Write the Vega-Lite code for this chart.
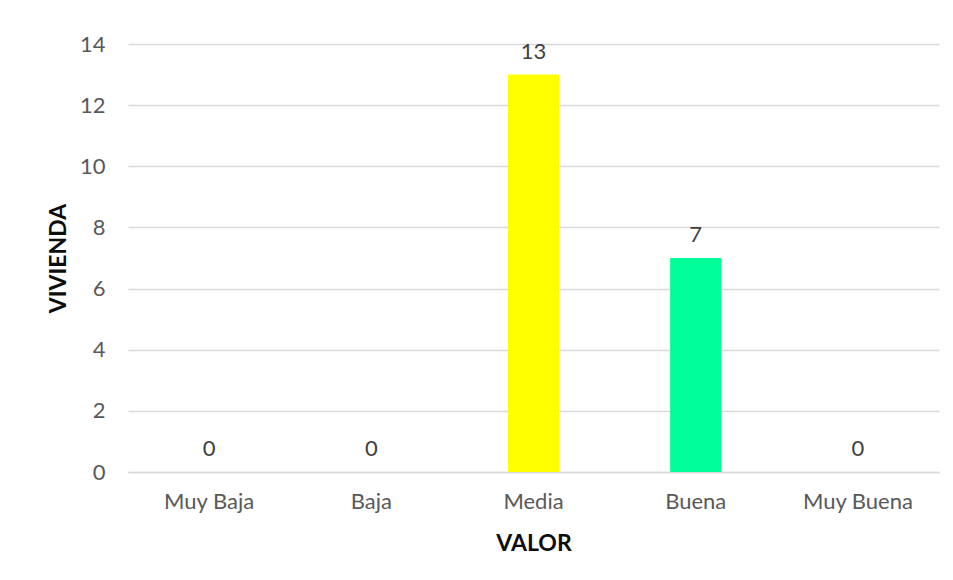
{
  "$schema": "https://vega.github.io/schema/vega-lite/v6.json",
  "width": 811,
  "height": 428,
  "autosize": {"type": "none"},
  "padding": {"left": 128, "top": 44, "right": 14, "bottom": 108},
  "background": "white",
  "config": {
    "view": {"stroke": null},
    "font": "Lato",
    "axis": {"labelFont": "Lato", "titleFont": "Lato", "labelColor": "#595959", "titleColor": "#0d0d0d", "labelFontSize": 22, "titleFontSize": 23, "titleFontWeight": "bold"}
  },
  "data": {
    "values": [
      {"valor": "Muy Baja", "vivienda": 0, "color": "#FFFF00"},
      {"valor": "Baja", "vivienda": 0, "color": "#FFFF00"},
      {"valor": "Media", "vivienda": 13, "color": "#FFFF00"},
      {"valor": "Buena", "vivienda": 7, "color": "#00FF99"},
      {"valor": "Muy Buena", "vivienda": 0, "color": "#FFFF00"}
    ]
  },
  "encoding": {
    "x": {
      "field": "valor", "type": "nominal", "sort": null,
      "scale": {"paddingInner": 0.685, "paddingOuter": 0.3425},
      "axis": {"title": "VALOR", "labelAngle": 0, "ticks": false, "domain": true, "domainColor": "#D9D9D9", "domainWidth": 1.3, "labelPadding": 19, "titleY": 71, "titleBaseline": "middle"}
    },
    "y": {
      "field": "vivienda", "type": "quantitative",
      "scale": {"domain": [0, 14]},
      "axis": {"title": "VIVIENDA", "values": [0, 2, 4, 6, 8, 10, 12, 14], "ticks": false, "domain": false, "gridColor": "#D9D9D9", "gridWidth": 1.3, "labelPadding": 23, "titleX": -70, "titleY": 214, "titleBaseline": "middle"}
    }
  },
  "layer": [
    {
      "mark": {"type": "bar"},
      "encoding": {"color": {"field": "color", "type": "nominal", "scale": null}}
    },
    {
      "mark": {"type": "text", "dy": -16, "baseline": "alphabetic", "fontSize": 22, "color": "#404040", "font": "Lato"},
      "encoding": {"text": {"field": "vivienda", "type": "quantitative"}}
    }
  ]
}
